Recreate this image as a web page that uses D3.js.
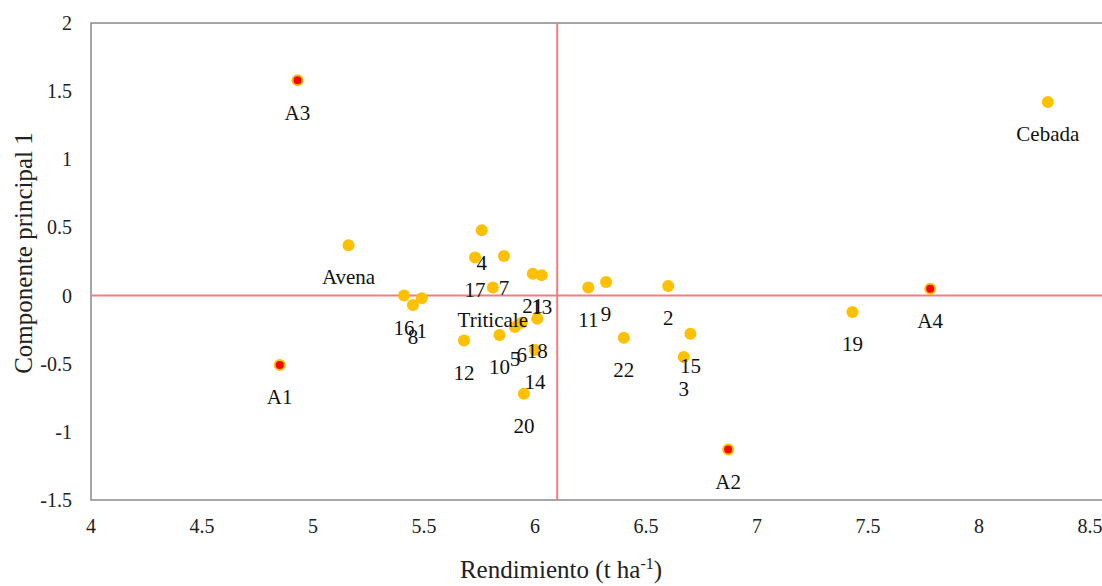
<!DOCTYPE html>
<html>
<head>
<meta charset="utf-8">
<script src="https://cdn.jsdelivr.net/npm/d3@7"></script>
<style>
  body { margin: 0; background: #fff; }
  svg { font-family: "Liberation Serif", "Times New Roman", serif; }
</style>
</head>
<body>
<div id="chart"></div>
<script>
// genotypes / species
var genNames = ["1", "2", "3", "4", "5", "6", "7", "8", "9", "10", "11", "12", "13", "14", "15",
                "16", "17", "18", "19", "20", "21", "22", "Triticale", "Avena", "Cebada"];
var genRend = [5.49, 6.60, 6.67, 5.76, 5.91, 5.94, 5.86, 5.45, 6.32, 5.84, 6.24, 5.68, 6.03, 6.00, 6.70,
               5.41, 5.73, 6.01, 7.43, 5.95, 5.99, 6.40, 5.81, 5.16, 8.31];
var genComp = [-0.02, 0.07, -0.45, 0.48, -0.23, -0.20, 0.29, -0.07, 0.10, -0.29, 0.06, -0.33, 0.15, -0.40, -0.28,
               0.00, 0.28, -0.17, -0.12, -0.72, 0.16, -0.31, 0.06, 0.37, 1.42];

// environments
var envNames = ["A1", "A2", "A3", "A4"];
var envRend = [4.85, 6.87, 4.93, 7.78];
var envComp = [-0.51, -1.13, 1.58, 0.05];

var xTicks = [4, 4.5, 5, 5.5, 6, 6.5, 7, 7.5, 8, 8.5];
var yTicks = [-1.5, -1, -0.5, 0, 0.5, 1, 1.5, 2];
var meanRend = 6.1;

var W = 1102, H = 586;
var svg = d3.select("#chart").append("svg")
    .attr("width", W)
    .attr("height", H);

var x = d3.scaleLinear().domain([4, 9]).range([91, 1201]);
var y = d3.scaleLinear().domain([-1.5, 2]).range([500, 23]);

// plot frame
svg.append("rect")
    .attr("x", x(4))
    .attr("y", y(2))
    .attr("width", x(9) - x(4))
    .attr("height", y(-1.5) - y(2))
    .attr("fill", "none")
    .attr("stroke", "#898989")
    .attr("stroke-width", 1.5);

// reference lines
svg.append("line")
    .attr("x1", x(4)).attr("x2", x(9))
    .attr("y1", y(0)).attr("y2", y(0))
    .attr("stroke", "#f47c7c")
    .attr("stroke-width", 2);
svg.append("line")
    .attr("x1", x(meanRend)).attr("x2", x(meanRend))
    .attr("y1", y(2)).attr("y2", y(-1.5))
    .attr("stroke", "#f47c7c")
    .attr("stroke-width", 2);

// tick labels
svg.selectAll(".xt")
    .data(xTicks)
    .enter().append("text")
    .attr("x", function(d) { return x(d) })
    .attr("y", 533)
    .attr("text-anchor", "middle")
    .attr("font-size", 20)
    .attr("fill", "#222")
    .text(function(d) { return d });

svg.selectAll(".yt")
    .data(yTicks)
    .enter().append("text")
    .attr("x", 72)
    .attr("y", function(d) { return y(d) })
    .attr("dy", "0.35em")
    .attr("text-anchor", "end")
    .attr("font-size", 20)
    .attr("fill", "#222")
    .text(function(d) { return d });

// axis titles
var xt = svg.append("text")
    .attr("x", 561)
    .attr("y", 578)
    .attr("text-anchor", "middle")
    .attr("font-size", 25)
    .attr("fill", "#222");
xt.append("tspan").text("Rendimiento (t ha");
xt.append("tspan").attr("font-size", 16).attr("dy", -9).text("-1");
xt.append("tspan").attr("dy", 9).text(")");

svg.append("text")
    .attr("transform", "translate(32,253) rotate(-90)")
    .attr("text-anchor", "middle")
    .attr("font-size", 25)
    .attr("fill", "#222")
    .text("Componente principal 1");

// genotype points
svg.selectAll(".gen")
    .data(genNames)
    .enter().append("circle")
    .attr("cx", function(d, i) { return x(genRend[i]) })
    .attr("cy", function(d, i) { return y(genComp[i]) })
    .attr("r", 6)
    .attr("fill", "#ffc000");

// environment points
svg.selectAll(".env")
    .data(envNames)
    .enter().append("circle")
    .attr("cx", function(d, i) { return x(envRend[i]) })
    .attr("cy", function(d, i) { return y(envComp[i]) })
    .attr("r", 5)
    .attr("fill", "#ff0000")
    .attr("stroke", "#ffc000")
    .attr("stroke-width", 2);

// labels below points
svg.selectAll(".genLab")
    .data(genNames)
    .enter().append("text")
    .attr("x", function(d, i) { return x(genRend[i]) })
    .attr("y", function(d, i) { return y(genComp[i]) + 32 })
    .attr("dy", "0.35em")
    .attr("text-anchor", "middle")
    .attr("font-size", 21)
    .attr("fill", "#111")
    .text(function(d) { return d });

svg.selectAll(".envLab")
    .data(envNames)
    .enter().append("text")
    .attr("x", function(d, i) { return x(envRend[i]) })
    .attr("y", function(d, i) { return y(envComp[i]) + 32 })
    .attr("dy", "0.35em")
    .attr("text-anchor", "middle")
    .attr("font-size", 21)
    .attr("fill", "#111")
    .text(function(d) { return d });
</script>
</body>
</html>
